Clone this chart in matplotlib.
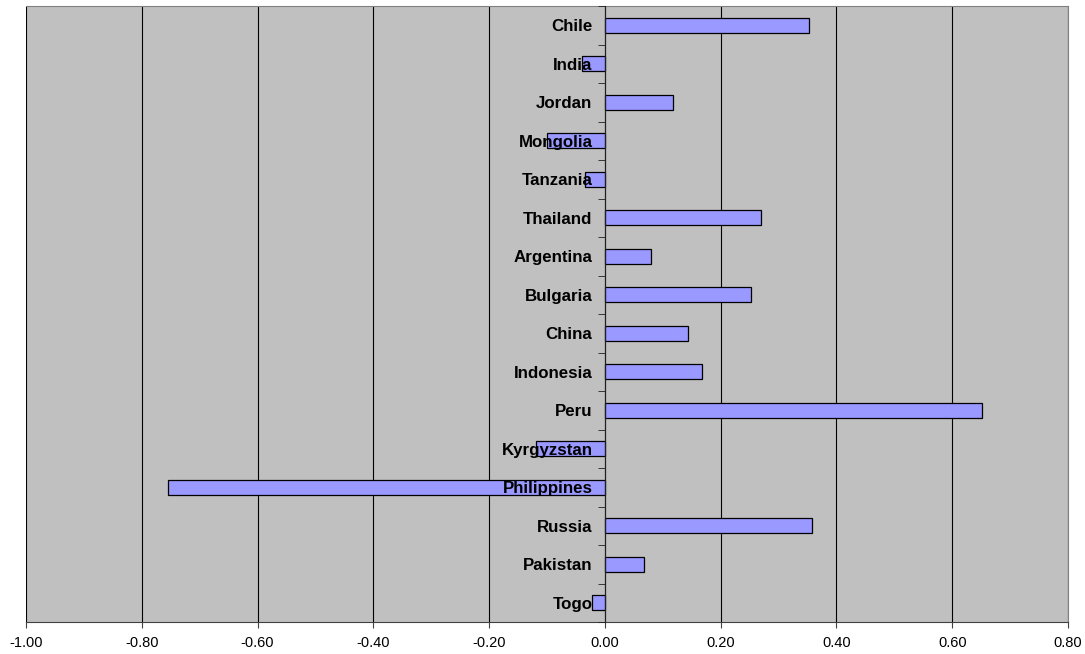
import matplotlib
matplotlib.use("Agg")
import matplotlib.pyplot as plt
import numpy as np

# values, top to bottom
countries = ['Chile', 'India', 'Jordan', 'Mongolia', 'Tanzania', 'Thailand',
             'Argentina', 'Bulgaria', 'China', 'Indonesia', 'Peru',
             'Kyrgyzstan', 'Philippines', 'Russia', 'Pakistan', 'Togo']
values = [0.353, -0.040, 0.117, -0.100, -0.034, 0.270,
          0.079, 0.252, 0.143, 0.167, 0.652,
          -0.119, -0.755, 0.357, 0.067, -0.022]
x_ticks = [-1.0, -0.8, -0.6, -0.4, -0.2, 0.0, 0.2, 0.4, 0.6, 0.8]

plt.rcParams['font.family'] = ['Liberation Sans', 'DejaVu Sans']

fig = plt.figure(figsize=(10.85, 6.54), dpi=100)
ax = fig.add_axes([26/1085, 1 - 622/654, (1068 - 26)/1085, (622 - 6)/654])
ax.set_facecolor('#C0C0C0')

y = np.arange(len(countries))
ax.barh(y, values, height=0.4, color='#9999FF', edgecolor='black', linewidth=0.9, zorder=2)

ax.set_xlim(-1.0, 0.8)
ax.set_ylim(len(countries) - 0.5, -0.5)

# vertical gridlines (drawn below bars)
ax.xaxis.set_zorder(1)
ax.set_xticks(x_ticks)
ax.set_xticklabels(['%.2f' % t for t in x_ticks], fontsize=10.5)
ax.xaxis.grid(True, color='black', linewidth=0.8)
ax.tick_params(axis='x', length=4, color='#404040', pad=6)

# category axis sits at zero, labels left of it and on top of bars
ax.yaxis.set_zorder(3)
ax.spines['left'].set_position(('data', 0))
ax.spines['left'].set_color('#202020')
ax.spines['left'].set_zorder(4)
ax.set_yticks(y)
ax.set_yticklabels(countries, fontsize=12.2, fontweight='bold')
ax.tick_params(axis='y', which='major', length=0, pad=9)
ax.set_yticks(np.arange(-0.5, len(countries), 1), minor=True)
ax.tick_params(axis='y', which='minor', length=5, direction='out', color='#202020')

for side in ['top', 'right']:
    ax.spines[side].set_color('#808080')
ax.spines['bottom'].set_color('#404040')

plt.savefig('out.png', dpi=100)
